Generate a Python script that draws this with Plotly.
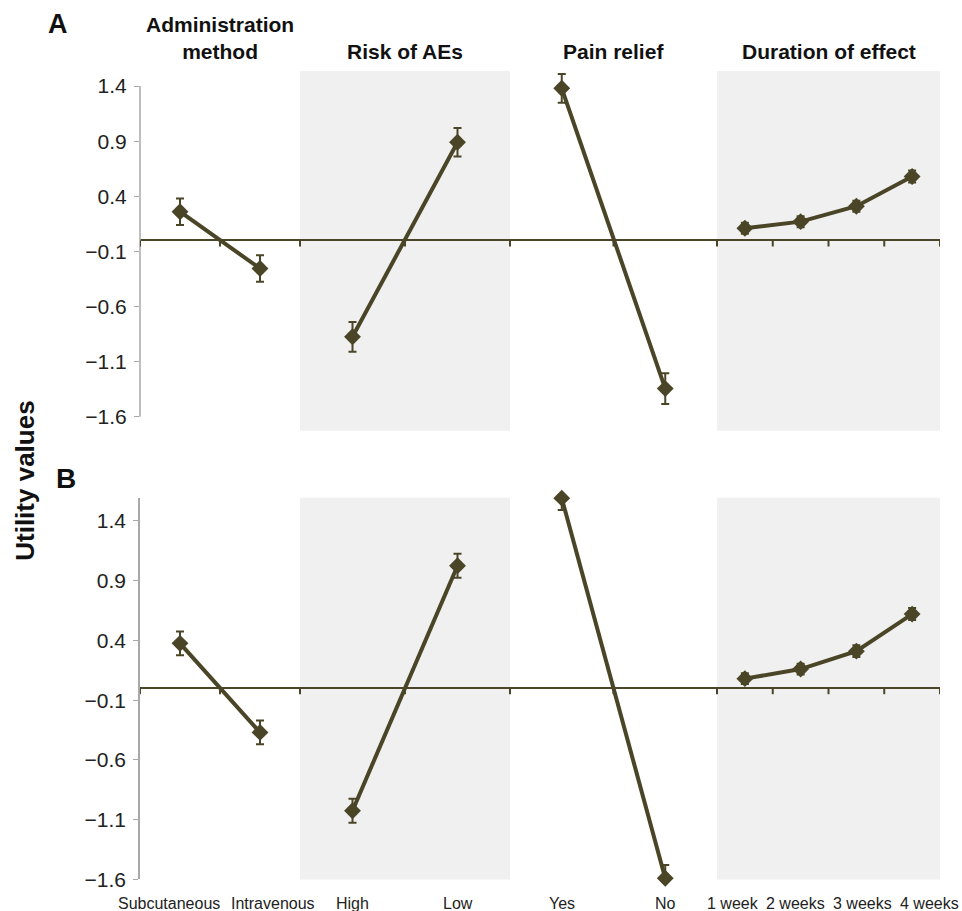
import plotly.graph_objects as go

# ---------------- data ----------------
attributes = ["Administration<br>method", "Risk of AEs", "Pain relief", "Duration of effect"]
levels_admin = ["Subcutaneous", "Intravenous"]
levels_aes = ["High", "Low"]
levels_pain = ["Yes", "No"]
levels_dur = ["1 week", "2 weeks", "3 weeks", "4 weeks"]

# Panel A
a_admin = [0.26, -0.255]
a_admin_err = [0.12, 0.12]
a_aes = [-0.875, 0.89]
a_aes_err = [0.135, 0.13]
a_pain = [1.38, -1.345]
a_pain_err = [0.13, 0.14]
a_dur = [0.11, 0.17, 0.31, 0.58]
a_dur_err = [0.05, 0.05, 0.05, 0.055]

# Panel B
b_admin = [0.375, -0.37]
b_admin_err = [0.1, 0.1]
b_aes = [-1.025, 1.025]
b_aes_err = [0.1, 0.1]
b_pain = [1.59, -1.59]
b_pain_err = [0.1, 0.11]
b_dur = [0.08, 0.16, 0.31, 0.62]
b_dur_err = [0.045, 0.045, 0.05, 0.05]

y_ticks = [-1.6, -1.1, -0.6, -0.1, 0.4, 0.9, 1.4]
panel_labels = ["A", "B"]
y_title = "Utility values"

# ---------------- style / layout ----------------
FW, FH = 962, 924
S = 0.9865            # vertical factor observed between page and photograph
OLIVE = "#4a4527"
SHADE = "#f0f0f0"
FONT = "Liberation Sans, Arial, sans-serif"


def px(X):
    return X / FW


def py(Y):
    return 1 - (Y / S) / FH


col_px = [(140, 300), (300, 510), (510, 717), (717, 940)]
row_px = [(71, 430), (497, 878)]
row_ranges = [[-1.727, 1.536], [-1.6, 1.593]]
shaded_cols = [1, 3]
label_shift = {"Subcutaneous": -11, "Intravenous": 13, "1 week": -12,
               "2 weeks": -5, "3 weeks": 6, "4 weeks": 17}

levels = [levels_admin, levels_aes, levels_pain, levels_dur]
rows_data = [
    [(a_admin, a_admin_err), (a_aes, a_aes_err), (a_pain, a_pain_err), (a_dur, a_dur_err)],
    [(b_admin, b_admin_err), (b_aes, b_aes_err), (b_pain, b_pain_err), (b_dur, b_dur_err)],
]

fig = go.Figure()
shapes = []
annotations = []
layout_axes = {}

for r in range(2):
    for c in range(4):
        k = r * 4 + c + 1
        xs = "" if k == 1 else str(k)
        vals, errs = rows_data[r][c]
        fig.add_trace(go.Scatter(
            x=levels[c], y=vals,
            xaxis="x" + xs, yaxis="y" + xs,
            mode="lines+markers",
            line=dict(color=OLIVE, width=4),
            marker=dict(symbol="diamond", size=13, color=OLIVE),
            error_y=dict(type="data", array=errs, visible=True,
                         color=OLIVE, thickness=2, width=4),
            cliponaxis=False, showlegend=False, hoverinfo="x+y",
        ))
        x0p, x1p = col_px[c]
        y0p, y1p = row_px[r]
        layout_axes["xaxis" + xs] = dict(
            domain=[px(x0p), px(x1p)], anchor="y" + xs,
            type="category", categoryorder="array", categoryarray=levels[c],
            range=[-0.5, len(levels[c]) - 0.5],
            showgrid=False, zeroline=False, showline=False, ticks="",
            showticklabels=False, fixedrange=True,
        )
        layout_axes["yaxis" + xs] = dict(
            domain=[py(y1p), py(y0p)], anchor="x" + xs,
            range=row_ranges[r],
            showgrid=False,
            zeroline=True, zerolinecolor=OLIVE, zerolinewidth=2,
            showline=(c == 0 and r == 1), linecolor="#a8a8a8", linewidth=1.5,
            ticks="outside" if c == 0 else "", ticklen=5, tickcolor="#a8a8a8",
            tickvals=y_ticks if c == 0 else [],
            showticklabels=(c == 0),
            ticklabelstandoff=3,
            tickfont=dict(family=FONT, size=21, color="#222"),
            fixedrange=True,
        )
        if c == 0 and r == 0:
            # axis line of panel A spans the tick range only
            shapes.append(dict(type="line", xref="x" + xs + " domain", yref="y" + xs,
                               x0=0, x1=0, y0=min(y_ticks), y1=max(y_ticks),
                               line=dict(color="#a8a8a8", width=1.5)))
        if c in shaded_cols:
            shapes.append(dict(type="rect", xref="x" + xs + " domain", yref="y" + xs + " domain",
                               x0=0, x1=1, y0=0, y1=1, fillcolor=SHADE,
                               line=dict(width=0), layer="below"))
        # tick marks on the zero line at category boundaries
        for i in range(len(levels[c]) + 1):
            shapes.append(dict(type="line", xref="x" + xs, yref="y" + xs,
                               x0=i - 0.5, x1=i - 0.5,
                               ysizemode="pixel", yanchor=0, y0=0, y1=-6,
                               line=dict(color=OLIVE, width=2)))
        # category labels under the bottom panel
        if r == 1:
            for lev in levels[c]:
                annotations.append(dict(text=lev, xref="x" + xs, yref="paper",
                                        x=lev, y=py(902), xshift=label_shift.get(lev, 0),
                                        xanchor="center", yanchor="middle", showarrow=False,
                                        font=dict(family=FONT, size=16, color="#222")))

for c, name in enumerate(attributes):
    x0p, x1p = col_px[c]
    annotations.append(dict(text="<b>" + name + "</b>", xref="paper", yref="paper",
                            x=px((x0p + x1p) / 2), y=py(65),
                            xanchor="center", yanchor="bottom", showarrow=False,
                            font=dict(family=FONT, size=21, color="#111")))
annotations.append(dict(text="<b>" + panel_labels[0] + "</b>", xref="paper", yref="paper",
                        x=px(58), y=py(24), xanchor="center", yanchor="middle",
                        showarrow=False, font=dict(family=FONT, size=27, color="#111")))
annotations.append(dict(text="<b>" + panel_labels[1] + "</b>", xref="paper", yref="paper",
                        x=px(66), y=py(478), xanchor="center", yanchor="middle",
                        showarrow=False, font=dict(family=FONT, size=28, color="#111")))
annotations.append(dict(text="<b>" + y_title + "</b>", xref="paper", yref="paper",
                        x=px(25), y=py(480), xanchor="center", yanchor="middle",
                        textangle=-90, showarrow=False,
                        font=dict(family=FONT, size=26, color="#111")))

fig.update_layout(
    width=FW, height=FH,
    margin=dict(l=0, r=0, t=0, b=0),
    paper_bgcolor="white", plot_bgcolor="rgba(0,0,0,0)",
    shapes=shapes, annotations=annotations,
    font=dict(family=FONT),
    **layout_axes,
)

fig.write_html(
    "out.html",
    config={"displayModeBar": False},
    post_script=(
        "document.body.style.margin='0px';"
        "document.body.style.overflow='hidden';"
        "document.documentElement.style.overflow='hidden';"
    ),
)
